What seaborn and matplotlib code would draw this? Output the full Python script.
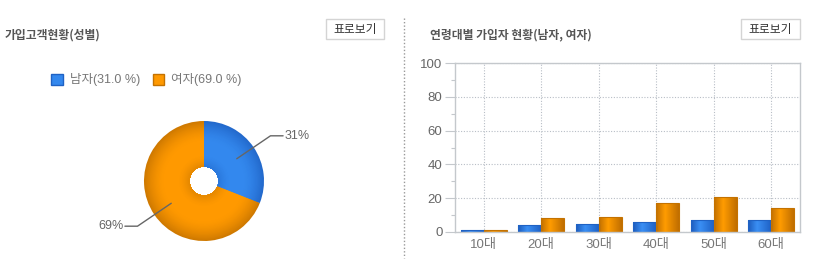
import numpy as np
import pandas as pd
import matplotlib
matplotlib.use('Agg')
import matplotlib.pyplot as plt
import seaborn as sns
from matplotlib.patches import Rectangle, Patch
from matplotlib.lines import Line2D
from matplotlib.colors import LinearSegmentedColormap, to_rgb

# ---------------- data ----------------
gender_labels = ['남자', '여자']
gender_share = [31.0, 69.0]
age_groups = ['10대', '20대', '30대', '40대', '50대', '60대']
male_values = [1.3, 4.3, 4.9, 6.0, 7.2, 7.2]
female_values = [1.3, 8.4, 9.0, 17.2, 20.8, 14.3]
y_ticks = [0, 20, 40, 60, 80, 100]
left_title = '가입고객현황(성별)'
right_title = '연령대별 가입자 현황(남자, 여자)'
button_label = '표로보기'

# ---------------- style ----------------
blue = '#3388ee'
orange = '#ff9900'
blue_dark = '#1f62c4'
orange_dark = '#c47200'

sns.set_theme(style='white')
plt.rcParams['font.family'] = ['Liberation Sans', 'Noto Sans CJK KR', 'DejaVu Sans']
cjk = ['Noto Sans CJK KR', 'DejaVu Sans']

W, H = 818, 276
fig = plt.figure(figsize=(W / 100, H / 100), dpi=100)


def fx(px):
    return px / W


def fy(py):
    return 1 - py / H


def mix(c1, c2, t):
    a, b = np.array(to_rgb(c1)), np.array(to_rgb(c2))
    return tuple(a + (b - a) * t)


# ---------------- bar chart ----------------
ax = fig.add_axes([fx(455), fy(232), fx(800) - fx(455), fy(63) - fy(232)])
df = pd.DataFrame({
    'age': age_groups * 2,
    'sex': [gender_labels[0]] * len(age_groups) + [gender_labels[1]] * len(age_groups),
    'value': male_values + female_values,
})
sns.barplot(data=df, x='age', y='value', hue='sex', palette=[blue, orange],
            saturation=1, width=0.8, ax=ax, legend=False, linewidth=0, zorder=2)

cmaps = {
    'b': LinearSegmentedColormap.from_list('b', [(0, '#1d5cbd'), (0.4, '#3a8ff4'), (1, '#1f62c6')]),
    'o': LinearSegmentedColormap.from_list('o', [(0, '#c27000'), (0.4, '#ff9c00'), (1, '#c06e00')]),
}
grad = np.linspace(0, 1, 64).reshape(1, -1)
for p in list(ax.patches):
    x, y0 = p.get_x(), p.get_y()
    w, h = p.get_width(), p.get_height()
    if h <= 0:
        continue
    fc = p.get_facecolor()
    is_blue = fc[2] > fc[0]
    cm = cmaps['b' if is_blue else 'o']
    im = ax.imshow(grad, cmap=cm, extent=[x, x + w, y0, y0 + h], aspect='auto',
                   zorder=1.9, interpolation='bilinear')
    im.set_clip_path(p)
    p.set_facecolor('none')
    p.set_edgecolor(blue_dark if is_blue else orange_dark)
    p.set_linewidth(0.8)
    p.set_zorder(2.1)

ax.set_xlim(-0.5, len(age_groups) - 0.5)
ax.set_ylim(0, 100)
ax.set_yticks(y_ticks)
ax.set_yticks([10, 30, 50, 70, 90], minor=True)
ax.set_xlabel('')
ax.set_ylabel('')
ax.set_axisbelow(True)
ax.grid(True, which='major', color='#b8bec6', linestyle=(0, (1, 1.5)), linewidth=0.8)
for s in ax.spines.values():
    s.set_color('#c4c8cc')
    s.set_linewidth(1)
ax.tick_params(axis='x', length=0, pad=5, labelsize=9.5, labelcolor='#777')
ax.tick_params(axis='y', which='major', length=7, width=0.8, color='#c4c8cc',
               pad=2, labelsize=9.5, labelcolor='#666', left=True)
ax.tick_params(axis='y', which='minor', length=3, width=0.8, color='#c4c8cc', left=True)

# ---------------- donut chart ----------------
ax2 = fig.add_axes([fx(144), fy(241), 120 / W, 120 / H])
inner = 0.24
n_rings = 40
edges = np.linspace(inner, 1.0, n_rings + 1)
# draw from outside in, each ring reaching down to the hole, so no seams
for i in range(n_rings, 0, -1):
    r1 = edges[i]
    s = (0.5 * (edges[i - 1] + r1) - inner) / (1 - inner)
    dark = max(0, (s - 0.55) / 0.45) ** 1.6 * 0.85 + max(0, (0.25 - s) / 0.25) ** 1.5 * 0.45
    cols = [mix(blue, blue_dark, dark), mix(orange, orange_dark, dark)]
    ax2.pie(gender_share, colors=cols, startangle=90, counterclock=False,
            radius=r1, wedgeprops=dict(width=r1 - inner, edgecolor='none', linewidth=0))
ax2.set_xlim(-1, 1)
ax2.set_ylim(-1, 1)
ax2.set_aspect('equal')
ax2.axis('off')

# leader lines with labels
total = sum(gender_share)
cum = 0
for v in gender_share:
    mid = 90 - (cum + v / 2) / total * 360
    cum += v
    a = np.deg2rad(mid)
    p0 = (0.66 * np.cos(a), 0.66 * np.sin(a))
    p1 = (1.34 * np.cos(a), 1.34 * np.sin(a))
    sgn = 1 if np.cos(a) >= 0 else -1
    p2 = (p1[0] + sgn * 0.21, p1[1])
    ax2.plot([p0[0], p1[0], p2[0]], [p0[1], p1[1], p2[1]], color='#666', lw=1,
             clip_on=False, zorder=5)
    ax2.text(p2[0] + sgn * 0.02, p2[1], f'{v / total * 100:.0f}%',
             ha='left' if sgn > 0 else 'right', va='center', fontsize=9,
             color='#666', clip_on=False)

# legend
handles = [Patch(facecolor=blue, edgecolor=blue_dark, linewidth=1),
           Patch(facecolor=orange, edgecolor=orange_dark, linewidth=1)]
labels = [f'{g}({v:.1f} %)' for g, v in zip(gender_labels, gender_share)]
fig.legend(handles, labels, loc='upper left', bbox_to_anchor=(fx(51), fy(73.5)),
           ncol=2, frameon=False, handlelength=0.95, handleheight=0.95,
           handletextpad=0.55, columnspacing=1.0, borderpad=0, borderaxespad=0,
           fontsize=9, labelcolor='#777')

# ---------------- titles, buttons, separator ----------------
fig.text(fx(5), fy(35), left_title, fontsize=8.5, fontweight='bold', color='#555',
         ha='left', va='center', family=cjk)
fig.text(fx(430), fy(35), right_title, fontsize=8.5, fontweight='bold', color='#555',
         ha='left', va='center', family=cjk)

for bx0, bx1 in [(326, 384), (741, 800)]:
    fig.add_artist(Rectangle((fx(bx0), fy(39)), fx(bx1) - fx(bx0), fy(19) - fy(39),
                             transform=fig.transFigure, facecolor='white',
                             edgecolor='#d4d4d4', linewidth=1))
    fig.text(fx((bx0 + bx1) / 2), fy(29), button_label, fontsize=8.5, color='#333',
             ha='center', va='center', family=cjk)

fig.add_artist(Line2D([fx(403.5), fx(403.5)], [fy(18), fy(258)], transform=fig.transFigure,
                      color='#999', linestyle=(0, (1, 1.5)), linewidth=1))

fig.savefig('out.png', dpi=100)
